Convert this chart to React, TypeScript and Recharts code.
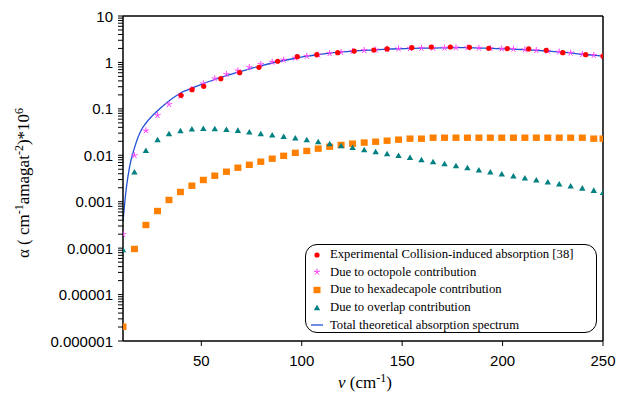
import React from "react";
import {
  ComposedChart,
  Line,
  Scatter,
  XAxis,
  YAxis,
  ReferenceLine,
} from "recharts";

// wavenumber grid (cm-1) shared by the theoretical contributions
const nuGrid = [
  11.0, 16.7, 22.4, 28.2, 33.9, 39.6, 45.3, 51.0, 56.7, 62.5, 68.2, 73.9, 79.6,
  85.3, 91.0, 96.8, 102.5, 108.2, 113.9, 119.6, 125.3, 131.1, 136.8, 142.5,
  148.2, 153.9, 159.6, 165.4, 171.1, 176.8, 182.5, 188.2, 193.9, 199.6, 205.4,
  211.1, 216.8, 222.5, 228.2, 233.9, 239.7, 245.4, 250.0,
];

const octopole = [
  1.99e-4, 9.9e-3, 0.0339, 0.0726, 0.125, 0.189, 0.264, 0.348, 0.447, 0.555,
  0.663, 0.785, 0.912, 1.02, 1.13, 1.25, 1.36, 1.45, 1.57, 1.65, 1.74, 1.82,
  1.87, 1.93, 1.97, 2.0, 2.03, 2.04, 2.06, 2.08, 2.08, 2.04, 2.01, 1.97, 1.94,
  1.88, 1.82, 1.76, 1.69, 1.6, 1.5, 1.43, 1.36,
];

const hexadecapole = [
  2.03e-6, 9.6e-5, 3.15e-4, 6.3e-4, 1.09e-3, 1.62e-3, 2.21e-3, 2.94e-3, 3.63e-3,
  4.43e-3, 5.4e-3, 6.24e-3, 7.28e-3, 8.45e-3, 9.75e-3, 0.0113, 0.0124, 0.0139,
  0.0153, 0.0167, 0.0178, 0.0188, 0.0196, 0.0206, 0.0217, 0.0228, 0.0228,
  0.0239, 0.0239, 0.0239, 0.0239, 0.0239, 0.0239, 0.0239, 0.0239, 0.0239,
  0.0239, 0.0239, 0.0239, 0.0239, 0.0239, 0.0228, 0.0228,
];

const overlap = [
  9.1e-5, 4.3e-3, 0.01256, 0.0213, 0.0288, 0.0333, 0.0363, 0.0374, 0.0368,
  0.0356, 0.0339, 0.0313, 0.0288, 0.027, 0.0251, 0.0232, 0.0213, 0.0193,
  0.0175, 0.0158, 0.01456, 0.013, 0.01178, 0.01067, 0.0098, 0.00887, 0.00792,
  0.00717, 0.00649, 0.00588, 0.00532, 0.00475, 0.0043, 0.0039, 0.00353,
  0.00319, 0.00289, 0.00262, 0.00237, 0.00215, 0.00194, 0.00173, 0.00156,
];

// experimental points [38]
const nuExp = [
  39.9, 45.4, 51.2, 59.7, 69.1, 78.7, 88.0, 97.8, 107.5, 117.9, 126.1, 135.9,
  142.5, 154.8, 164.5, 174.0, 183.5, 193.1, 202.4, 213.0, 221.7, 230.0, 241.4,
  250.0,
];
const expAbs = [
  0.196, 0.259, 0.306, 0.447, 0.601, 0.785, 1.06, 1.33, 1.47, 1.62, 1.76, 1.85,
  1.95, 2.08, 2.15, 2.15, 2.12, 2.02, 1.98, 1.95, 1.82, 1.62, 1.47, 1.37,
];

// total theoretical spectrum (line)
const nuTotal = [
  11.0, 11.85, 12.75, 14.3, 16.7, 20.1, 22.4, 28.2, 33.9, 39.6, 45.3, 51.0,
  56.7, 62.5, 68.2, 73.9, 79.6, 85.3, 91.0, 96.8, 102.5, 108.2, 113.9, 119.6,
  125.3, 131.1, 136.8, 142.5, 148.2, 153.9, 159.6, 165.4, 171.1, 176.8, 182.5,
  188.2, 193.9, 199.6, 205.4, 211.1, 216.8, 222.5, 228.2, 233.9, 239.7, 245.4,
  250.0,
];
const totalAbs = [
  3.8e-4, 9.4e-4, 2.1e-3, 5.7e-3, 0.0144, 0.0351, 0.049, 0.091, 0.148, 0.22,
  0.279, 0.351, 0.429, 0.518, 0.616, 0.722, 0.846, 0.972, 1.1, 1.23, 1.36, 1.47,
  1.58, 1.68, 1.76, 1.81, 1.87, 1.93, 1.97, 2.0, 2.03, 2.04, 2.06, 2.08, 2.08,
  2.04, 2.01, 1.97, 1.94, 1.88, 1.82, 1.76, 1.69, 1.6, 1.5, 1.43, 1.36,
];

const xTicks = [50, 100, 150, 200, 250];
const yDecades = [1e-6, 1e-5, 1e-4, 1e-3, 0.01, 0.1, 1, 10];
const yDecadeLabels = [
  "0.000001",
  "0.00001",
  "0.0001",
  "0.001",
  "0.01",
  "0.1",
  "1",
  "10",
];

const RED = "#ff0000";
const MAGENTA = "#ff40ff";
const ORANGE = "#ff7f00";
const TEAL = "#008080";
const BLUE = "#2150d6";

const SERIF = '"Liberation Serif", "Times New Roman", "DejaVu Serif", serif';
const SANS = '"Liberation Sans", Arial, sans-serif';

const pairs = (xs: number[], ys: number[]) =>
  xs.map((x, i) => ({ x, y: ys[i] }));

const expData = pairs(nuExp, expAbs);
const octData = pairs(nuGrid, octopole);
const hexData = pairs(nuGrid, hexadecapole);
const ovlData = pairs(nuGrid, overlap);
const totalData = pairs(nuTotal, totalAbs);

// decade ticks plus 2..9 minor ticks
const yTicks: number[] = [];
yDecades.forEach((d, i) => {
  yTicks.push(d);
  if (i < yDecades.length - 1) {
    for (let m = 2; m <= 9; m++) yTicks.push(m * d);
  }
});

const Dot = ({ cx, cy }: any) => <circle cx={cx} cy={cy} r={2.6} fill={RED} />;

const Star = ({ cx, cy }: any) => {
  const arms = [0, 72, 144, 216, 288];
  return (
    <g stroke={MAGENTA} strokeWidth={1}>
      {arms.map((a) => {
        const r = (a * Math.PI) / 180;
        return (
          <line
            key={a}
            x1={cx}
            y1={cy}
            x2={cx + 3.3 * Math.sin(r)}
            y2={cy - 3.3 * Math.cos(r)}
          />
        );
      })}
    </g>
  );
};

const Square = ({ cx, cy }: any) => (
  <rect x={cx - 3.5} y={cy - 3.2} width={7} height={6.4} fill={ORANGE} />
);

const Tri = ({ cx, cy }: any) => (
  <polygon
    points={`${cx},${cy - 3.3} ${cx - 3.2},${cy + 2.3} ${cx + 3.2},${cy + 2.3}`}
    fill={TEAL}
  />
);

const YTick = ({ x, y, payload }: any) => {
  const idx = yDecades.findIndex(
    (d) => Math.abs(Math.log10(payload.value) - Math.log10(d)) < 1e-6
  );
  if (idx < 0) return <g />;
  return (
    <text
      x={x}
      y={y}
      textAnchor="end"
      dominantBaseline="central"
      fontFamily={SANS}
      fontSize={15}
      fill="#000"
    >
      {yDecadeLabels[idx]}
    </text>
  );
};

const legendItems = [
  { label: "Experimental Collision-induced absorption [38]", mark: "dot" },
  { label: "Due to octopole contribution", mark: "star" },
  { label: "Due to hexadecapole contribution", mark: "square" },
  { label: "Due to overlap contribution", mark: "tri" },
  { label: "Total theoretical absorption spectrum", mark: "line" },
];

function LegendMark({ mark }: { mark: string }) {
  return (
    <svg width={16} height={12} style={{ display: "block" }}>
      {mark === "dot" && <Dot cx={8} cy={6} />}
      {mark === "star" && <Star cx={8} cy={6} />}
      {mark === "square" && <Square cx={8} cy={6} />}
      {mark === "tri" && <Tri cx={8} cy={6} />}
      {mark === "line" && (
        <line x1={2} y1={6} x2={14} y2={6} stroke={BLUE} strokeWidth={1.3} />
      )}
    </svg>
  );
}

export default function App() {
  return (
    <div
      style={{
        position: "absolute",
        left: 0,
        top: 0,
        width: 618,
        height: 401,
        background: "#fff",
      }}
    >
      <ComposedChart
        width={618}
        height={401}
        margin={{ top: 16, right: 15, bottom: 20, left: 33 }}
      >
        <XAxis
          type="number"
          dataKey="x"
          domain={[11, 250]}
          ticks={xTicks}
          allowDataOverflow
          height={40}
          tickSize={5}
          tickMargin={9}
          axisLine={{ stroke: "#000", strokeWidth: 1.5 }}
          tickLine={{ stroke: "#000" }}
          tick={{ fill: "#000", fontSize: 15, fontFamily: SANS }}
        />
        <YAxis
          type="number"
          dataKey="y"
          scale="log"
          domain={[1e-6, 10]}
          ticks={yTicks}
          allowDataOverflow
          interval={0}
          width={90}
          tickSize={5}
          tickMargin={5}
          axisLine={{ stroke: "#000", strokeWidth: 1.5 }}
          tickLine={{ stroke: "#000" }}
          tick={<YTick />}
        />
        <ReferenceLine y={10} stroke="#000" strokeWidth={1.5} />
        <ReferenceLine x={250} stroke="#000" strokeWidth={1.5} />
        <Scatter
          data={hexData}
          shape={(p: any) => <Square {...p} />}
          isAnimationActive={false}
        />
        <Scatter
          data={ovlData}
          shape={(p: any) => <Tri {...p} />}
          isAnimationActive={false}
        />
        <Line
          data={totalData}
          dataKey="y"
          type="monotone"
          stroke={BLUE}
          strokeWidth={1.3}
          dot={false}
          activeDot={false}
          isAnimationActive={false}
        />
        <Scatter
          data={octData}
          shape={(p: any) => <Star {...p} />}
          isAnimationActive={false}
        />
        <Scatter
          data={expData}
          shape={(p: any) => <Dot {...p} />}
          isAnimationActive={false}
        />
      </ComposedChart>

      {/* y axis title */}
      <div
        style={{
          position: "absolute",
          left: 23,
          top: 183,
          transform: "translate(-50%, -50%) rotate(-90deg)",
          whiteSpace: "nowrap",
          fontFamily: SERIF,
          fontSize: 17,
          color: "#000",
        }}
      >
        α ( cm<sup style={{ fontSize: 12 }}>-1</sup>amagat
        <sup style={{ fontSize: 12 }}>-2</sup>)*10
        <sup style={{ fontSize: 12 }}>6</sup>
      </div>

      {/* x axis title */}
      <div
        style={{
          position: "absolute",
          left: 365,
          top: 382,
          transform: "translate(-50%, -50%)",
          whiteSpace: "nowrap",
          fontFamily: SERIF,
          fontSize: 17,
          color: "#000",
        }}
      >
        <i>ν</i> (cm<sup style={{ fontSize: 12 }}>-1</sup>)
      </div>

      {/* legend */}
      <div
        style={{
          position: "absolute",
          left: 305,
          top: 244,
          width: 292,
          height: 89,
          boxSizing: "border-box",
          border: "1.5px solid #000",
          borderRadius: 12,
          background: "#fff",
          paddingTop: 1,
          fontFamily: SERIF,
          fontSize: 12.7,
          color: "#000",
        }}
      >
        {legendItems.map((it) => (
          <div
            key={it.label}
            style={{
              display: "flex",
              alignItems: "center",
              height: 17.6,
              whiteSpace: "nowrap",
            }}
          >
            <div style={{ width: 16, marginLeft: 3, marginRight: 5 }}>
              <LegendMark mark={it.mark} />
            </div>
            <span>{it.label}</span>
          </div>
        ))}
      </div>
    </div>
  );
}
